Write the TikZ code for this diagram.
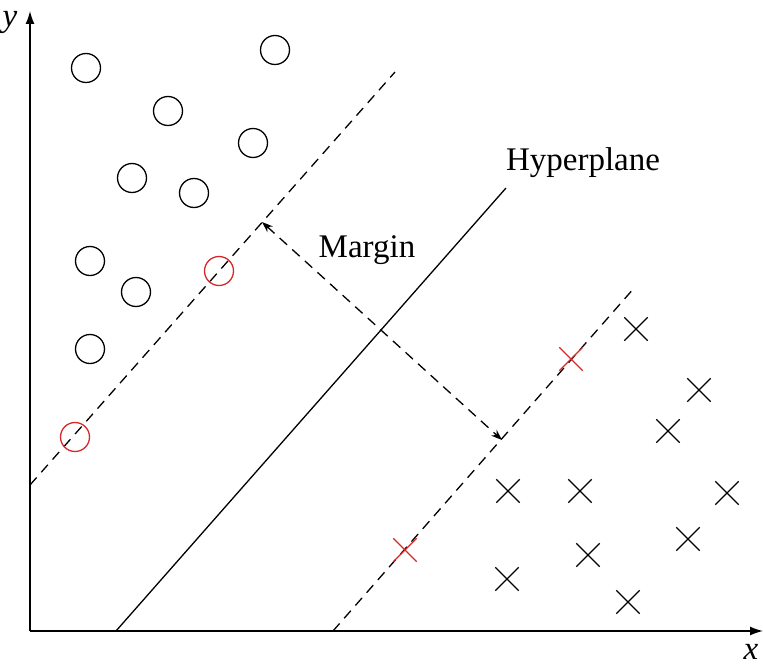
\documentclass[tikz,border=0pt]{standalone}
\usepackage{fontspec}
\setmainfont{Liberation Serif}
\usetikzlibrary{arrows.meta,shapes.misc}
\definecolor{svred}{RGB}{214,40,40}
\tikzset{
  pt/.style={circle,draw,line width=1.3pt,minimum size=29pt,inner sep=0pt},
  spt/.style={pt,draw=svred},
  xpt/.style={cross out,draw,line width=1.3pt,minimum size=22pt,inner sep=0pt},
  sxpt/.style={xpt,draw=svred},
  axis/.style={line width=1.4pt,-{Latex[length=13pt,width=9pt]}},
  bound/.style={line width=1.3pt,dash pattern=on 10pt off 7pt},
  lbl/.style={font=\fontsize{33}{36}\selectfont,inner sep=0pt},
  axlbl/.style={font=\fontsize{33}{36}\selectfont\itshape,inner sep=0pt}
}
\begin{document}
\begin{tikzpicture}[x=1pt,y=-1pt]
\useasboundingbox (0,0) rectangle (763,668);
% axes
\coordinate (O) at (30,631);
\coordinate (Ytop) at (30,11);
\coordinate (Xend) at (763,631);
\draw[axis] (O) -- (Ytop);
\draw[axis] (O) -- (Xend);
\node[axlbl] (ylab) at (10,22) {y};
\node[axlbl] (xlab) at (751,652) {x};
% lines
\coordinate (L1) at (30,485);
\coordinate (L2) at (395,72);
\coordinate (H1) at (116,631);
\coordinate (H2) at (506,188);
\coordinate (R1) at (333,631);
\coordinate (R2) at (635,287);
\draw[bound] (L1) -- (L2);
\draw[line width=1.3pt] (H1) -- (H2);
\draw[bound] (R1) -- (R2);
% margin
\coordinate (M1) at (262,222);
\coordinate (M2) at (502,440);
\draw[bound,{Stealth[length=11pt,width=8pt]}-{Stealth[length=11pt,width=8pt]}] (M1) -- (M2);
\node[lbl] (margin) at (367,250) {Margin};
\node[lbl] (hyper) at (583,163) {Hyperplane};
% circles
\node[pt] (c1) at (86,68) {};
\node[pt] (c2) at (275,50) {};
\node[pt] (c3) at (168,111) {};
\node[pt] (c4) at (253,143) {};
\node[pt] (c5) at (132,178) {};
\node[pt] (c6) at (194,193) {};
\node[pt] (c7) at (90,261) {};
\node[pt] (c8) at (136,292) {};
\node[pt] (c9) at (90,349) {};
\node[spt] (s1) at (219,271) {};
\node[spt] (s2) at (75,437) {};
% crosses
\node[xpt] (x1) at (636,329) {};
\node[xpt] (x2) at (699,390) {};
\node[xpt] (x3) at (668,431) {};
\node[xpt] (x4) at (508,491) {};
\node[xpt] (x5) at (580,491) {};
\node[xpt] (x6) at (727,493) {};
\node[xpt] (x7) at (688,539) {};
\node[xpt] (x8) at (588,555) {};
\node[xpt] (x9) at (507,579) {};
\node[xpt] (x10) at (628,602) {};
\node[sxpt] (t1) at (571,359) {};
\node[sxpt] (t2) at (405,550) {};
\end{tikzpicture}
\end{document}
